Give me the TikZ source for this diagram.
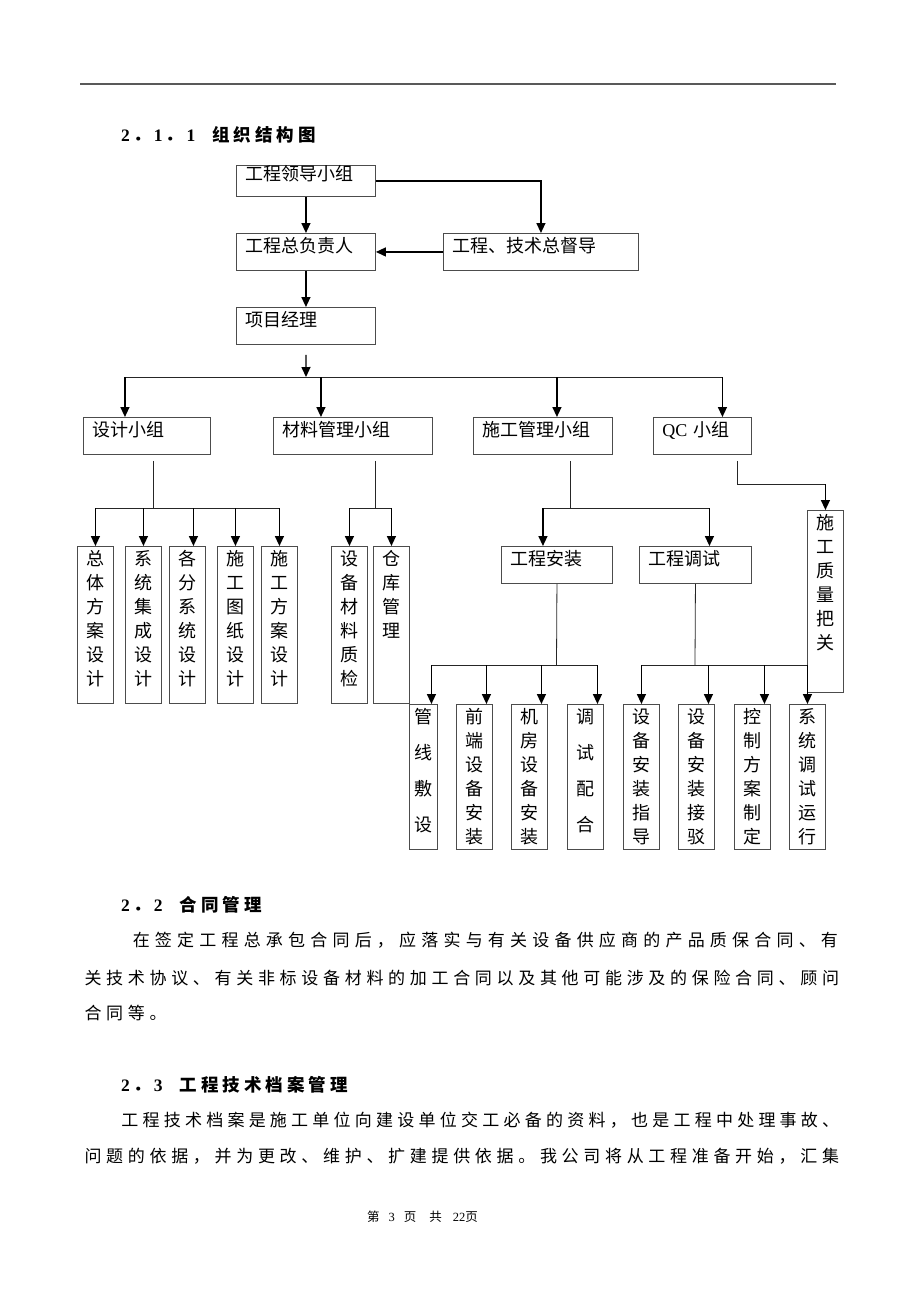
\documentclass[tikz,border=0pt]{standalone}
\usepackage{fontspec}
\setmainfont{Liberation Serif}
\newfontfamily\cjk{Noto Sans CJK SC}
\usetikzlibrary{arrows.meta}
\newcommand\boxfont{\fontsize{18pt}{24pt}\cjk}
\newcommand\secno[1]{{\rmfamily\bfseries #1}}
\makeatletter
\newcommand\pitched[2]{\@tfor\pchar:=#2\do{\makebox[#1]{\pchar}}}
\makeatother
\tikzset{
  unitbox/.style={draw=black!70,line width=0.9pt,anchor=north west,inner xsep=9pt,inner ysep=3pt,
    align=left,font=\boxfont,text width=#1,text height=16pt,text depth=15pt},
  colbox/.style={draw=black!70,line width=0.9pt,anchor=north west,inner xsep=9pt,inner ysep=3pt,
    align=center,font=\boxfont,text width=18pt,text height=16pt,text depth=#1},
  link/.style={draw=black!85,line width=0.8pt},
  arr/.style={->,line width=1.4pt},
  head/.style={anchor=base west,inner sep=0pt,font=\fontsize{17.5pt}{17.5pt}\cjk\bfseries},
  body/.style={anchor=base west,inner sep=0pt,font=\fontsize{17pt}{17pt}\cjk}
}

\begin{document}
\begin{tikzpicture}[x=1pt,y=-1pt,>={Triangle[length=10pt,width=9pt]}]
    \useasboundingbox (0,0) rectangle (920,1302);
    \draw[black!65,line width=1.6pt] (80,84) -- (836,84);

    \node[head] (sec1) at (121,141) {\secno{2}\pitched{24pt}{．}\secno{1}\pitched{24pt}{．}\secno{1}\hspace{15pt}\pitched{21.5pt}{组织结构图}};

    % leading group
    \node[unitbox=121pt,text height=12pt,text depth=13pt] (lead) at (236,165) {工程领导小组};
    \node[unitbox=121pt] (chief) at (236,233) {工程总负责人};
    \node[unitbox=177pt] (super) at (443,233) {工程、技术总督导};
    \node[unitbox=121pt] (pm) at (236,307) {项目经理};

    \draw[arr] (lead.south) -- (chief.north);
    \draw[arr] (lead.east) -| (super.north);
    \draw[arr] (super.west) -- (chief.east);
    \draw[arr] (chief.south) -- (pm.north);
    \coordinate (bus) at (306,377);
    \draw[arr] ([yshift=-10pt]pm.south) -- (bus);

    % the four groups
    \node[unitbox=109pt] (design) at (83,417) {设计小组};
    \node[unitbox=141pt] (material) at (273,417) {材料管理小组};
    \node[unitbox=121pt] (build) at (473,417) {施工管理小组};
    \node[unitbox=80pt] (qc) at (653,417) {{\rmfamily QC} 小组};

    \draw[link] ([xshift=-22pt]design.north |- bus) -- ([xshift=20pt]qc.north |- bus);
    \draw[arr] ([xshift=-22pt]design.north |- bus) -- ([xshift=-22pt]design.north);
    \draw[arr] ([xshift=-32pt]material.north |- bus) -- ([xshift=-32pt]material.north);
    \draw[arr] ([xshift=14pt]build.north |- bus) -- ([xshift=14pt]build.north);
    \draw[arr] ([xshift=20pt]qc.north |- bus) -- ([xshift=20pt]qc.north);

    % design
    \node[colbox=135pt] (d1) at (77,546) {总\\体\\方\\案\\设\\计};
    \node[colbox=135pt] (d2) at (125,546) {系\\统\\集\\成\\设\\计};
    \node[colbox=135pt] (d3) at (169,546) {各\\分\\系\\统\\设\\计};
    \node[colbox=135pt] (d4) at (217,546) {施\\工\\图\\纸\\设\\计};
    \node[colbox=135pt] (d5) at (261,546) {施\\工\\方\\案\\设\\计};

    \coordinate (dbus) at (153,508);
    \draw[link] ([yshift=-6pt]design.south -| dbus) -- (dbus);
    \draw[link] (d1.north |- dbus) -- (d5.north |- dbus);
    \draw[arr] (d1.north |- dbus) -- (d1.north);
    \draw[arr] (d2.north |- dbus) -- (d2.north);
    \draw[arr] ([xshift=6pt]d3.north |- dbus) -- ([xshift=6pt]d3.north);
    \draw[arr] (d4.north |- dbus) -- (d4.north);
    \draw[arr] (d5.north |- dbus) -- (d5.north);

    % material
    \node[colbox=135pt] (m1) at (331,546) {设\\备\\材\\料\\质\\检};
    \node[colbox=135pt] (m2) at (373,546) {仓\\库\\管\\理};

    \coordinate (mbus) at (375,508);
    \draw[link] ([yshift=-6pt]material.south -| mbus) -- (mbus);
    \draw[link] (m1.north |- mbus) -- (m2.north |- mbus);
    \draw[arr] (m1.north |- mbus) -- (m1.north);
    \draw[arr] (m2.north |- mbus) -- (m2.north);

    % construction
    \node[unitbox=93pt] (install) at (501,546) {工程安装};
    \node[unitbox=94pt] (debug) at (639,546) {工程调试};

    \coordinate (bbus) at (570,508);
    \draw[link] ([yshift=-6pt]build.south -| bbus) -- (bbus);
    \draw[link] ([xshift=-14pt]install.north |- bbus) -- ([xshift=14pt]debug.north |- bbus);
    \draw[arr] ([xshift=-14pt]install.north |- bbus) -- ([xshift=-14pt]install.north);
    \draw[arr] ([xshift=14pt]debug.north |- bbus) -- ([xshift=14pt]debug.north);

    % quality
    \node[colbox=160pt] (quality) at (807,510) {施\\工\\质\\量\\把\\关};
    \coordinate (qturn) at (737,484);
    \draw[link] ([yshift=-6pt]qc.south -| qturn) -- (qturn) -- (qturn -| quality.north);
    \draw[arr] (qturn -| quality.north) -- (quality.north);

    % bottom row
    \node[colbox=123pt,inner xsep=5pt,font=\fontsize{18pt}{36pt}\cjk] (p1) at (409,704) {管\\线\\敷\\设};
    \node[colbox=123pt] (p2) at (456,704) {前\\端\\设\\备\\安\\装};
    \node[colbox=123pt] (p3) at (511,704) {机\\房\\设\\备\\安\\装};
    \node[colbox=123pt,font=\fontsize{18pt}{36pt}\cjk] (p4) at (567,704) {调\\试\\配\\合};
    \node[colbox=123pt] (p5) at (623,704) {设\\备\\安\\装\\指\\导};
    \node[colbox=123pt] (p6) at (678,704) {设\\备\\安\\装\\接\\驳};
    \node[colbox=123pt] (p7) at (734,704) {控\\制\\方\\案\\制\\定};
    \node[colbox=123pt] (p8) at (789,704) {系\\统\\调\\试\\运\\行};

    \coordinate (ibus) at (556.5,665);
    \draw[link] (install.south) -- (ibus);
    \draw[link] ([xshift=8pt]p1.north |- ibus) -- ([xshift=12pt]p4.north |- ibus);
    \draw[arr] ([xshift=8pt]p1.north |- ibus) -- ([xshift=8pt]p1.north);
    \draw[arr] ([xshift=12pt]p2.north |- ibus) -- ([xshift=12pt]p2.north);
    \draw[arr] ([xshift=12pt]p3.north |- ibus) -- ([xshift=12pt]p3.north);
    \draw[arr] ([xshift=12pt]p4.north |- ibus) -- ([xshift=12pt]p4.north);

    \coordinate (tbus) at (695,665);
    \draw[link] (debug.south) -- (tbus);
    \draw[link] (p5.north |- tbus) -- (p8.north |- tbus);
    \draw[arr] (p5.north |- tbus) -- (p5.north);
    \draw[arr] ([xshift=12pt]p6.north |- tbus) -- ([xshift=12pt]p6.north);
    \draw[arr] ([xshift=12pt]p7.north |- tbus) -- ([xshift=12pt]p7.north);
    \draw[arr] (p8.north |- tbus) -- (p8.north);

    % text below the chart
    \node[head] (sec2) at (121,911) {\secno{2}\pitched{24pt}{．}\secno{2}\hspace{15pt}\pitched{21.5pt}{合同管理}};
    \node[body] (l1) at (130,946) {\pitched{22.2pt}{在签定工程总承包合同后，应落实与有关设备供应商的产品质保合同、有}};
    \node[body] (l2) at (82,984) {\pitched{21.69pt}{关技术协议、有关非标设备材料的加工合同以及其他可能涉及的保险合同、顾问}};
    \node[body] (l3) at (82,1019) {\pitched{21.69pt}{合同等。}};

    \node[head] (sec3) at (121,1091) {\secno{2}\pitched{24pt}{．}\secno{3}\hspace{15pt}\pitched{21.5pt}{工程技术档案管理}};
    \node[body] (l4) at (119,1126) {\pitched{21.24pt}{工程技术档案是施工单位向建设单位交工必备的资料，也是工程中处理事故、}};
    \node[body] (l5) at (82,1162) {\pitched{21.69pt}{问题的依据，并为更改、维护、扩建提供依据。我公司将从工程准备开始，汇集}};

    \node[anchor=base west,inner sep=0pt,font=\fontsize{12.5pt}{12.5pt}\selectfont] (folio) at (367,1221)
      {{\cjk 第}\hspace{9pt}3\hspace{9pt}{\cjk 页}\hspace{13pt}{\cjk 共}\hspace{11pt}22{\cjk 页}};
\end{tikzpicture}
\end{document}
